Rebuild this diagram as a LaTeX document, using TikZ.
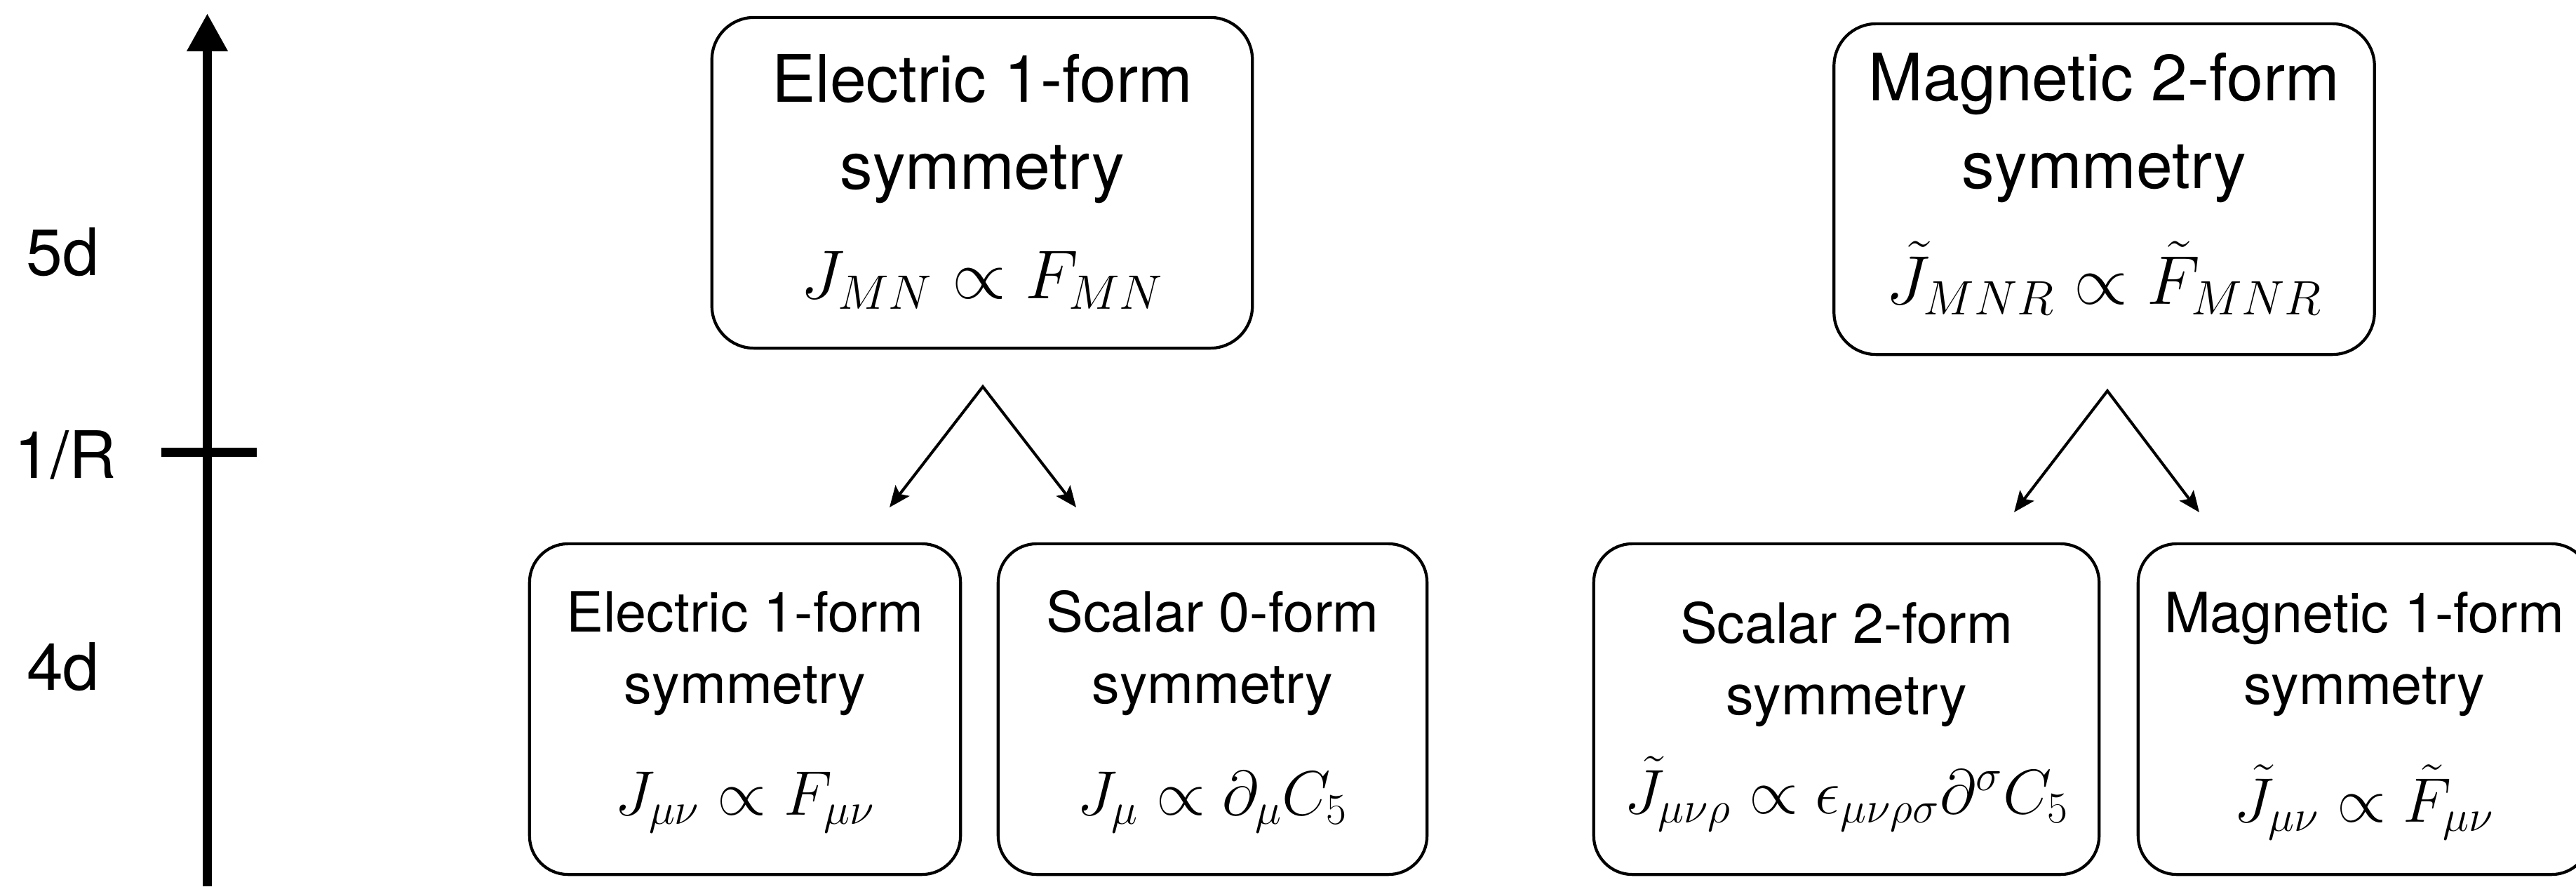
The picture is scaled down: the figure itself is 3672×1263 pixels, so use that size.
\RequirePackage{fix-cm}
\documentclass[tikz,border=0pt]{standalone}
\usepackage[no-math]{fontspec}
\setmainfont{TeX Gyre Heros}
\usetikzlibrary{arrows.meta}
\newcommand\topsize{\fontsize{26.5}{35.3}\selectfont}
\newcommand\botsize{\fontsize{22.5}{29}\selectfont}
\newcommand\topmath[1]{{\fontsize{28}{35}\selectfont$#1$}}
\newcommand\botmath[1]{{\fontsize{25.5}{31}\selectfont$#1$}}
\newcommand\padtop[1]{\rule{0pt}{#1}}
\tikzset{
  symbox/.style={draw, line width=1.2pt, inner sep=0pt, align=center},
  topbox/.style={symbox, rounded corners=0.6cm, minimum width=7.7cm, minimum height=4.71cm, font=\topsize},
  botbox/.style={symbox, rounded corners=0.55cm, minimum height=4.71cm, font=\botsize},
  scalelabel/.style={anchor=base, inner sep=0pt, font=\topsize},
  axisline/.style={line width=0.13cm},
  splitarrow/.style={line width=1.15pt, line join=miter, {Stealth[length=0.3cm,width=0.25cm,inset=0.06cm]}-{Stealth[length=0.3cm,width=0.25cm,inset=0.06cm]}}
}
\begin{document}
\begin{tikzpicture}[x=0.01cm, y=-0.01cm]
\path[use as bounding box, fill=white] (0,0) rectangle (3672,1263);

% energy axis
\coordinate (axbot) at (295.5,1263);
\coordinate (axtop) at (295.5,19);
\coordinate (tickl) at (230,644);
\coordinate (tickr) at (366,644);
\draw[axisline, -{Triangle[length=0.54cm,width=0.55cm]}] (axbot) -- (axtop);
\draw[axisline] (tickl) -- (tickr);
\node[scalelabel] (l5d) at (89,392) {5d};
\node[scalelabel] (lR) at (93,681) {1/R};
\node[scalelabel] (l4d) at (90,983) {4d};

% 5d boxes
\node[topbox] (el5) at (1400,260.5) {\begin{tabular}{@{}c@{}}Electric 1-form\\ symmetry\\[9pt] \topmath{J_{MN}\propto F_{MN}}\end{tabular}};
\node[topbox] (mg5) at (2999.5,269.5) {\begin{tabular}{@{}c@{}}Magnetic 2-form\\ symmetry\\[11.1pt] \topmath{\tilde{J}_{MNR}\propto \tilde{F}_{MNR}}\\[3.1pt]\end{tabular}};

% 4d boxes
\node[botbox, minimum width=6.14cm] (el4) at (1062,1010.5) {\begin{tabular}{@{}c@{}}Electric 1-form\\ symmetry\\[16pt] \botmath{J_{\mu\nu}\propto F_{\mu\nu}}\end{tabular}};
\node[botbox, minimum width=6.11cm] (sc0) at (1728.5,1010.5) {\begin{tabular}{@{}c@{}}Scalar 0-form\\ symmetry\\[16pt] \botmath{J_{\mu}\propto \partial_{\mu}C_5}\end{tabular}};
\node[botbox, minimum width=7.2cm] (sc2) at (2632,1010.5) {\begin{tabular}{@{}c@{}}\padtop{24.3pt}Scalar 2-form\\ symmetry\\[8pt] \botmath{\tilde{J}_{\mu\nu\rho}\propto \epsilon_{\mu\nu\rho\sigma}\partial^{\sigma}C_5}\end{tabular}};
\node[botbox, minimum width=6.44cm] (mg4) at (3370,1010.5) {\begin{tabular}{@{}c@{}}\padtop{23.4pt}Magnetic 1-form\\ symmetry\\[16pt] \botmath{\tilde{J}_{\mu\nu}\propto \tilde{F}_{\mu\nu}}\end{tabular}};

% splitting arrows
\coordinate (elapex) at (1401,551);
\coordinate (elL) at (1268,723);
\coordinate (elR) at (1534,723);
\coordinate (mgapex) at (3004,557);
\coordinate (mgL) at (2871,730);
\coordinate (mgR) at (3135,730);
\draw[splitarrow] (elL) -- (elapex) -- (elR);
\draw[splitarrow] (mgL) -- (mgapex) -- (mgR);
\end{tikzpicture}
\end{document}
